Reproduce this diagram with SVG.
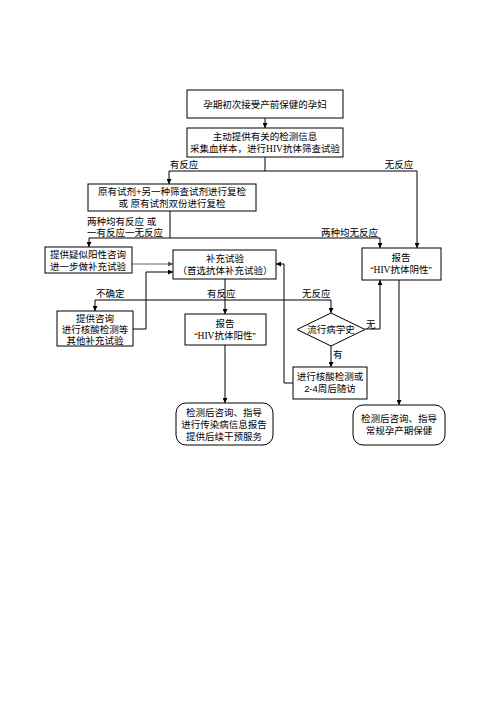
<svg xmlns="http://www.w3.org/2000/svg" width="496" height="702" viewBox="0 0 496 702">
<defs>
<marker id="ah" viewBox="0 0 8 8" refX="8" refY="4" markerWidth="5" markerHeight="5" orient="auto" markerUnits="userSpaceOnUse"><path d="M0,0 L8,4 L0,8 z" fill="#000"/></marker>
<marker id="ahg" viewBox="0 0 8 8" refX="8" refY="4" markerWidth="5" markerHeight="5" orient="auto" markerUnits="userSpaceOnUse"><path d="M0,0 L8,4 L0,8 z" fill="#555"/></marker>
</defs>
<style>
rect, polygon { fill: #fff; stroke: #000; stroke-width: 1; }
text { font-family: "Liberation Sans", "Noto Sans CJK SC", sans-serif; font-size: 9.5px; fill: #000; }
.c { text-anchor: middle; }
.s { font-family: "Liberation Serif", "Noto Sans CJK SC", serif; }
#connectors path { fill: none; stroke: #000; stroke-width: 1; }
</style>
<rect x="0" y="0" width="496" height="702" style="stroke:none;fill:#fff"/>
<g id="connectors">
<path d="M265,118 V128" marker-end="url(#ah)"/>
<path d="M265,157 V171 M169,171 H417"/>
<path d="M169,171 V184" marker-end="url(#ah)"/>
<path d="M417,171 V248" marker-end="url(#ah)"/>
<path d="M170,211 V238 M89,238 H380"/>
<path d="M89,238 V247" marker-end="url(#ah)"/>
<path d="M380,238 V248" marker-end="url(#ah)"/>
<path d="M132,264 H173" style="stroke:#666" marker-end="url(#ahg)"/>
<path d="M133,329 H146 V272 H173" marker-end="url(#ah)"/>
<path d="M225,279 V314" marker-end="url(#ah)"/>
<path d="M95,300 H331"/>
<path d="M95,300 V311" marker-end="url(#ah)"/>
<path d="M331,300 V313" marker-end="url(#ah)"/>
<path d="M331,346 V367" marker-end="url(#ah)"/>
<path d="M293,383 H284 V264 H276" marker-end="url(#ah)"/>
<path d="M365,329 H380 V280" marker-end="url(#ah)"/>
<path d="M399,280 V405" marker-end="url(#ah)"/>
<path d="M225,345 V403" marker-end="url(#ah)"/>
<text class="c" x="184" y="168">有反应</text>
<text class="c" x="399" y="168">无反应</text>
<text x="87" y="225">两种均有反应 或</text>
<text x="87" y="236">一有反应一无反应</text>
<text x="321" y="236">两种均无反应</text>
<text x="96" y="297">不确定</text>
<text x="207" y="297">有反应</text>
<text x="302" y="297">无反应</text>
<text x="333" y="358">有</text>
<text x="366" y="328">无</text>
</g>
<g id="n1"><rect x="187" y="90" width="156" height="28"/><text class="c" x="265" y="108">孕期初次接受产前保健的孕妇</text></g>
<g id="n2"><rect x="187" y="128" width="156" height="29"/><text class="c" x="265" y="140">主动提供有关的检测信息</text><text class="c" x="265" y="152">采集血样本，进行<tspan class="s">HIV</tspan>抗体筛查试验</text></g>
<g id="n3"><rect x="88" y="184" width="168" height="27"/><text class="c" x="172" y="195">原有试剂+另一种筛查试剂进行复检</text><text class="c" x="172" y="207">或  原有试剂双份进行复检</text></g>
<g id="n4"><rect x="45" y="247" width="87" height="26"/><text class="c" x="88" y="258">提供疑似阳性咨询</text><text class="c" x="88" y="270">进一步做补充试验</text></g>
<g id="n5"><rect x="173" y="250" width="103" height="29"/><text class="c" x="225" y="262">补充试验</text><text class="c" x="225" y="274">（首选抗体补充试验）</text></g>
<g id="n6"><rect x="362" y="248" width="79" height="32"/><text class="c" x="401" y="261">报告</text><text class="c" x="401" y="273">“<tspan class="s">HIV</tspan>抗体阴性”</text></g>
<g id="n7"><rect x="57" y="311" width="76" height="35"/><text class="c" x="95" y="322">提供咨询</text><text class="c" x="95" y="333">进行核酸检测等</text><text class="c" x="95" y="344">其他补充试验</text></g>
<g id="n8"><rect x="185" y="314" width="81" height="31"/><text class="c" x="225" y="327">报告</text><text class="c" x="225" y="339">“<tspan class="s">HIV</tspan>抗体阳性”</text></g>
<g id="n9"><polygon points="331,313 365,329.5 331,346 297,329.5"/><text class="c" x="331" y="333">流行病学史</text></g>
<g id="n10"><rect x="293" y="367" width="74" height="32"/><text class="c" x="330" y="380">进行核酸检测或</text><text class="c" x="330" y="392">2-4周后随访</text></g>
<g id="n11"><rect x="176" y="403" width="97" height="42" rx="10"/><text class="c" x="224" y="416">检测后咨询、指导</text><text class="c" x="224" y="428">进行传染病信息报告</text><text class="c" x="224" y="440">提供后续干预服务</text></g>
<g id="n12"><rect x="353" y="405" width="92" height="40" rx="10"/><text class="c" x="399" y="422">检测后咨询、指导</text><text class="c" x="399" y="434">常规孕产期保健</text></g>
</svg>
